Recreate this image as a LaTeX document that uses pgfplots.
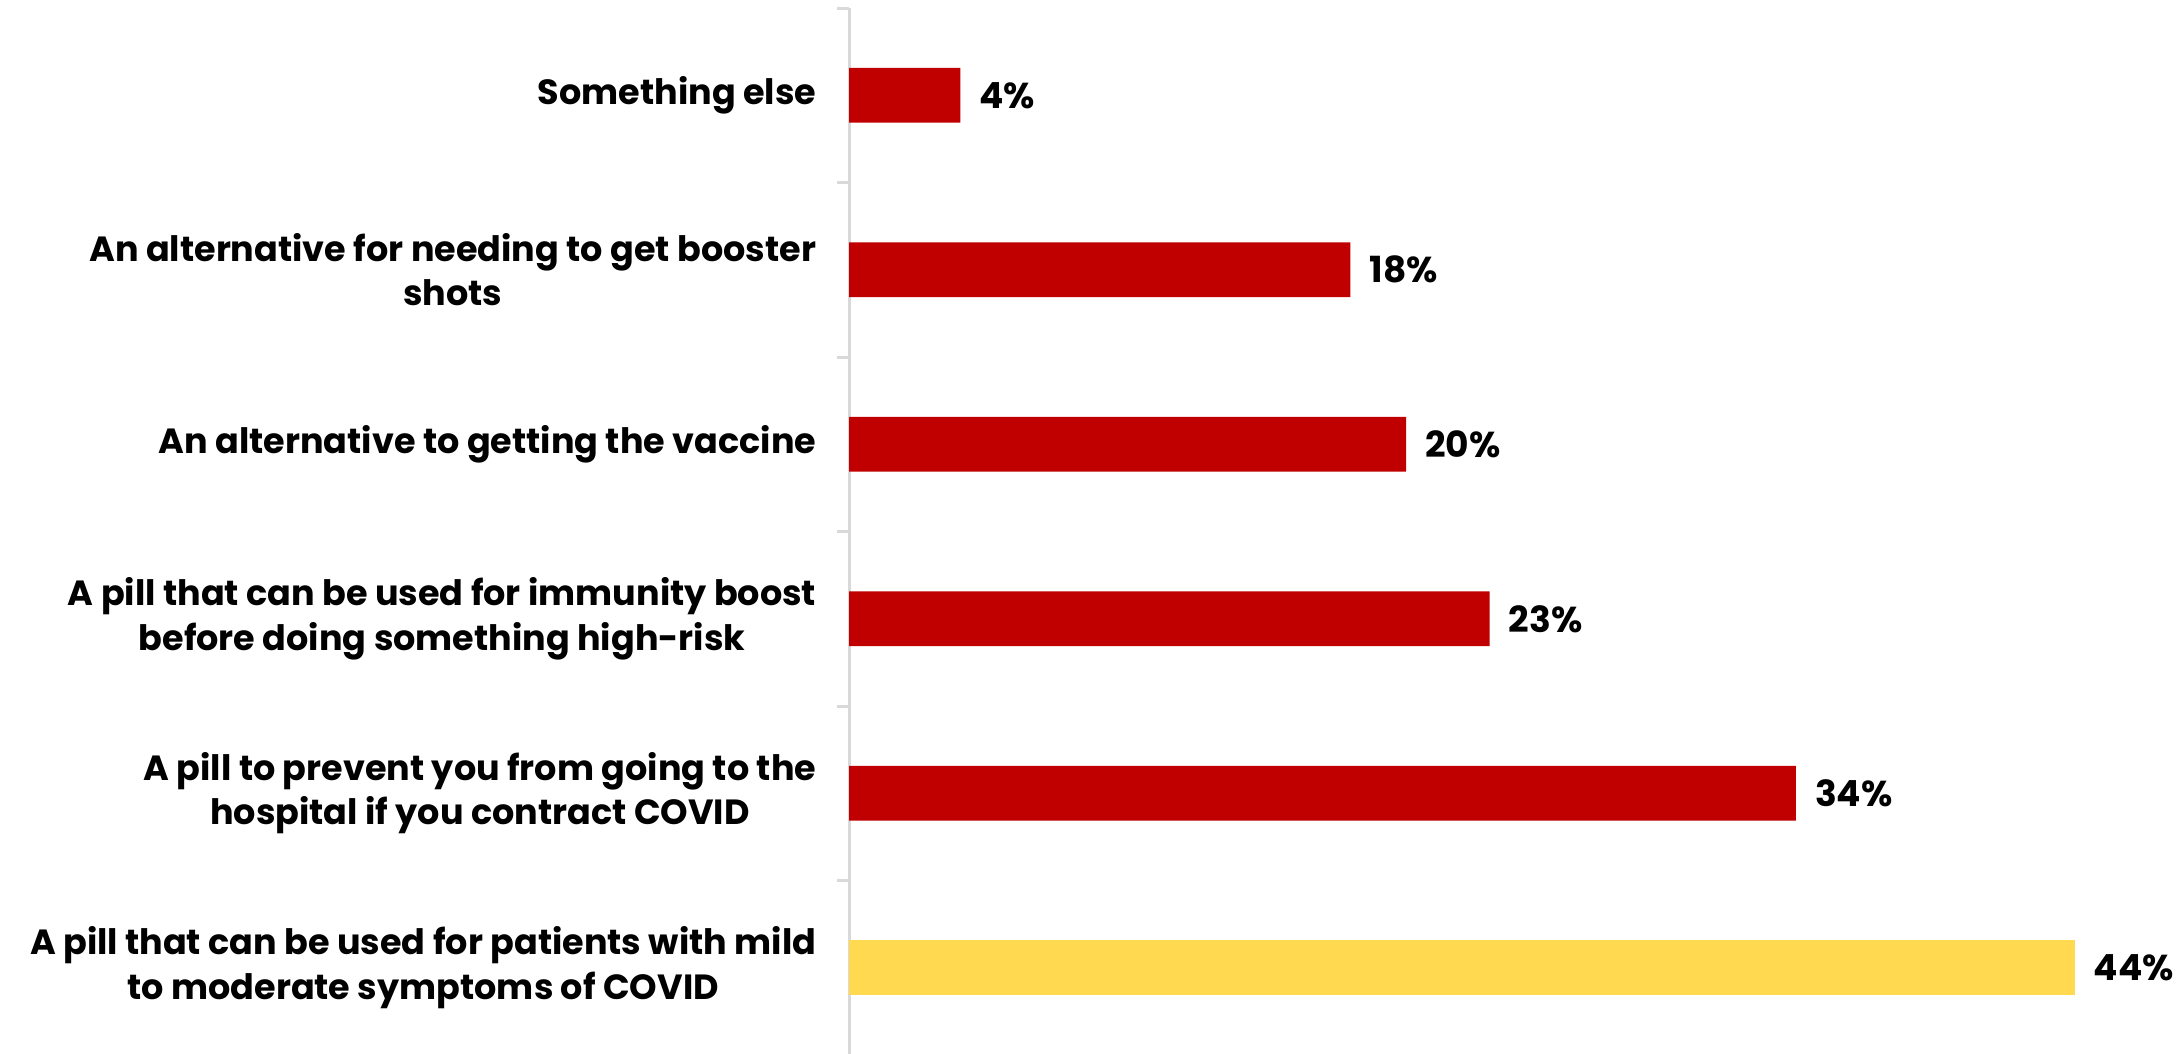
\documentclass[border=0pt]{standalone}
\usepackage{pgfplots}
\pgfplotsset{compat=1.18}
\usepackage{fontspec}
\setmainfont{Poppins}
\definecolor{barred}{HTML}{C00000}
\definecolor{baryel}{HTML}{FFD94F}
\definecolor{axgray}{HTML}{D9D9D9}
\begin{document}
\begin{tikzpicture}
\useasboundingbox (0,0) rectangle (545.5pt,263.25pt);
\begin{axis}[
  at={(212.25pt,-0.5pt)}, anchor=south west,
  scale only axis,
  width=320.3pt, height=261.75pt,
  xmin=0, xmax=46,
  ymin=-0.5, ymax=5.5,
  xbar, bar width=13.7pt, bar shift=0pt,
  axis x line=none,
  axis y line*=left,
  y axis line style={draw=axgray, line width=0.75pt, -},
  ytick={0,1,2,3,4,5},
  yticklabels={
    {A pill that can be used for patients with mild\\to moderate symptoms of COVID},
    {A pill to prevent you from going to the\\hospital if you contract COVID},
    {A pill that can be used for immunity boost\\before doing something high-risk},
    {An alternative to getting the vaccine},
    {An alternative for needing to get booster\\shots},
    {Something else}},
  major tick length=0pt,
  minor ytick={-0.5,0.5,1.5,2.5,3.5,4.5,5.5},
  minor tick length=3pt,
  tick align=outside,
  minor tick style={draw=axgray, line width=0.75pt},
  yticklabel style={align=center, anchor=east, inner sep=0pt, xshift=-8pt,
    font=\bfseries\fontsize{8.75}{11.1}\selectfont},
  point meta=explicit symbolic,
  nodes near coords,
  nodes near coords style={anchor=west, xshift=4.6pt, inner sep=0pt,
    font=\bfseries\fontsize{9}{11}\selectfont, text=black},
  clip=false,
]
\addplot[fill=barred, draw=none] coordinates {
  (34,1) [34\%]
  (23,2) [23\%]
  (20,3) [20\%]
  (18,4) [18\%]
  (4,5) [4\%]
};
\addplot[fill=baryel, draw=none] coordinates {
  (44,0) [44\%]
};
\end{axis}
\end{tikzpicture}
\end{document}
